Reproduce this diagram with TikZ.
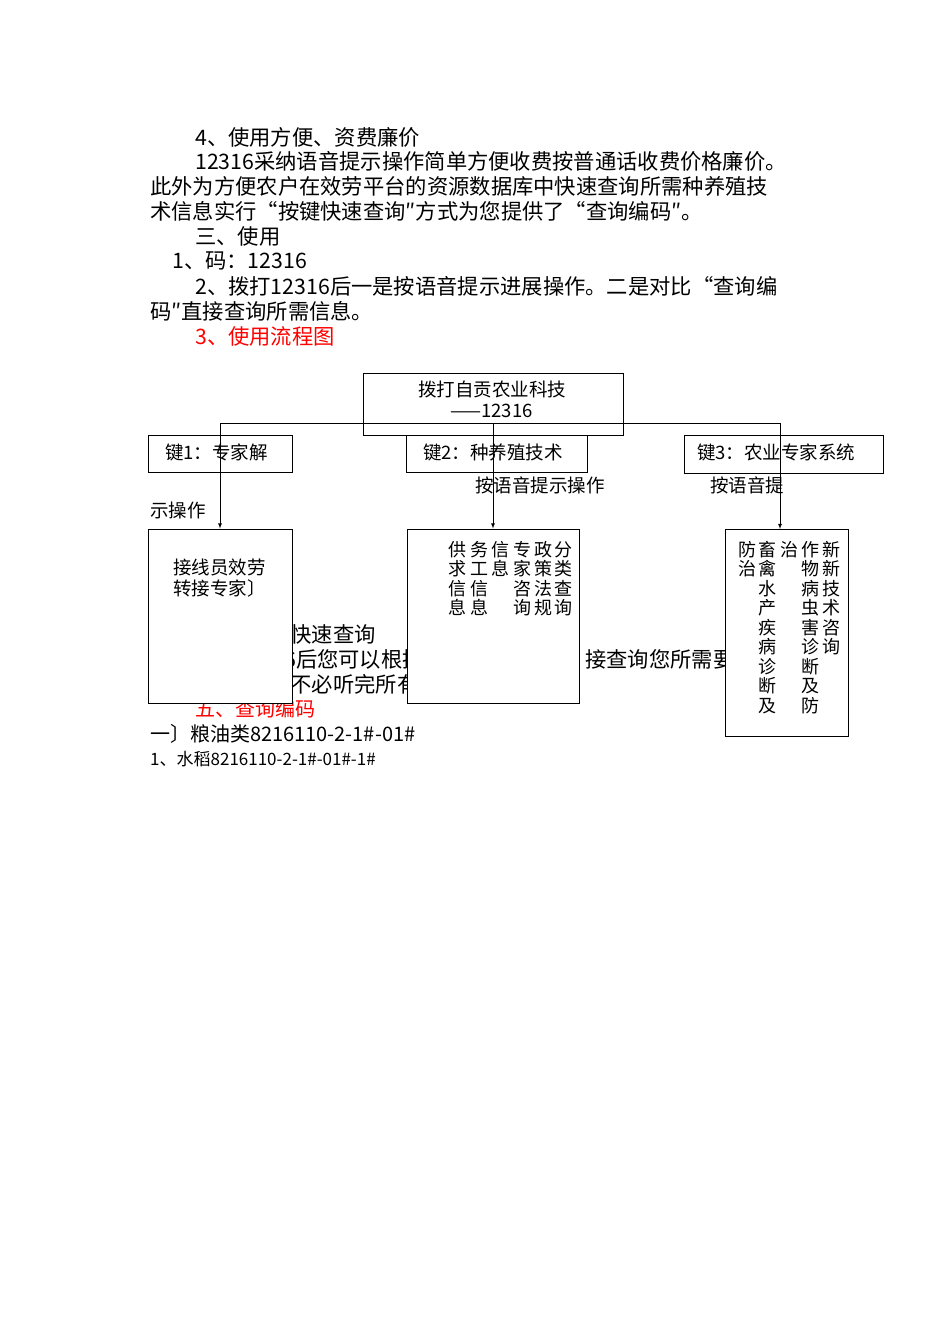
\documentclass[tikz,border=0pt]{standalone}
\usepackage{fontspec}
\setmainfont{Liberation Serif}
\newfontfamily\cjk{Noto Sans CJK SC}
\begin{document}
\begin{tikzpicture}[x=1pt,y=-1pt,
  txt/.style={anchor=west,inner sep=0pt,font=\cjk\fontsize{21.3}{21.3}\selectfont},
  sm/.style={anchor=west,inner sep=0pt,font=\cjk\fontsize{18.5}{18.5}\selectfont},
  bx/.style={draw,fill=white,line width=0.9pt},
  col/.style={anchor=north,inner sep=0pt,align=center,font=\cjk\fontsize{18}{19.5}\selectfont},
  arr/.style={-latex,line width=0.8pt}]
\useasboundingbox (0,0) rectangle (950,1344);
\node[txt] (t1) at (195,137) {4、使用方便、资费廉价};
\node[txt] (t2) at (195,161) {12316采纳语音提示操作简单方便收费按普通话收费价格廉价。};
\node[txt] (t3) at (150,186) {此外为方便农户在效劳平台的资源数据库中快速查询所需种养殖技};
\node[txt] (t4) at (150,211) {术信息实行“按键快速查询″方式为您提供了“查询编码″。};
\node[txt] (t5) at (195,236) {三、使用};
\node[txt] (t6) at (172,261) {1、码：12316};
\node[txt] (t7) at (195,286) {2、拨打12316后一是按语音提示进展操作。二是对比“查询编};
\node[txt] (t8) at (150,311) {码″直接查询所需信息。};
\node[txt,text=red] (t9) at (195,336) {3、使用流程图};
% hidden text
\node[txt] (h1) at (205,634) {四、按键快速查询};
\node[txt] (h2a) at (284,659) {6后您可以根据查询编码直};
\node[txt] (h2b) at (585,659) {接查询您所需要};
\node[txt] (h3) at (269,684) {您不必听完所有};
\node[txt,font=\cjk\fontsize{20}{20}\selectfont,text=red] (h4) at (195,709) {五、查询编码};
\node[txt,font=\cjk\fontsize{20}{20}\selectfont] (u1) at (150,734) {一〕粮油类8216110-2-1\#-01\#};
\node[sm,font=\cjk\fontsize{17}{17}\selectfont] (u2) at (150,759) {1、水稻8216110-2-1\#-01\#-1\#};
% boxes
\node[bx,minimum width=260pt,minimum height=62pt] (top) at (493,404) {};
\node[sm] at (418,389) {拨打自贡农业科技};
\node[sm] at (450,411) {——12316};
\node[bx,minimum width=144pt,minimum height=37pt] (k1) at (220,453.5) {};
\node[sm] at (165,452) {键1：专家解};
\node[bx,minimum width=181pt,minimum height=37pt] (k2) at (496.5,453.5) {};
\node[sm] at (423,452) {键2：种养殖技术};
\node[bx,minimum width=199pt,minimum height=38pt] (k3) at (783.5,454) {};
\node[sm] at (697,452) {键3：农业专家系统};
\node[sm] (l1) at (475,485) {按语音提示操作};
\node[sm] (l2) at (710,485) {按语音提};
\node[sm] (l3) at (150,510) {示操作};
\node[bx,minimum width=144pt,minimum height=174pt] (b1) at (220,616) {};
\node[sm] at (173,567) {接线员效劳};
\node[sm] at (173,588) {转接专家〕};
\node[bx,minimum width=172pt,minimum height=174pt] (b2) at (493,616) {};
\foreach \x/\t in {457/{供\\求\\信\\息},479/{务\\工\\信\\息},500/{信\\息},522/{专\\家\\咨\\询},543/{政\\策\\法\\规},563/{分\\类\\查\\询}}
  \node[col] at (\x,541) {\t};
\node[bx,minimum width=123pt,minimum height=207pt] (b3) at (786.5,632.5) {};
\foreach \x/\t in {747/{防\\治},767/{畜\\禽\\水\\产\\疾\\病\\诊\\断\\及},789/{治},810/{作\\物\\病\\虫\\害\\诊\\断\\及\\防},831/{新\\新\\技\\术\\咨\\询}}
  \node[col] at (\x,541) {\t};
% connectors
\coordinate (hl) at (220,423);
\coordinate (hr) at (780,423);
\coordinate (hm) at (493,423);
\draw[line width=0.8pt] (hl) -- (hr);
\draw[arr] (hl) -- (b1.north);
\draw[arr] (hm) -- (b2.north);
\draw[arr] (hr) -- (780,529);
\end{tikzpicture}
\end{document}
